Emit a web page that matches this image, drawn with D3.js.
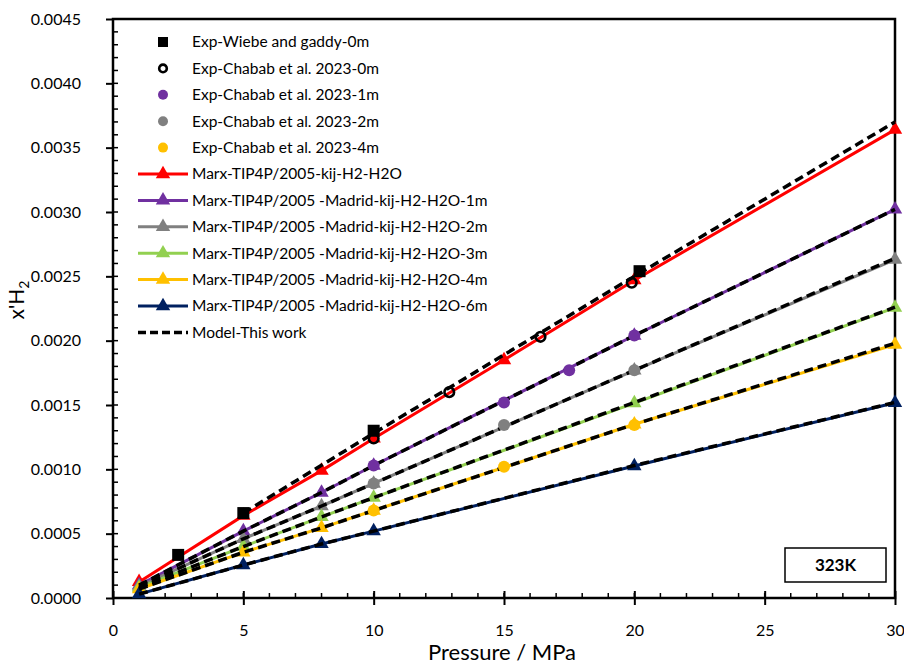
<!DOCTYPE html>
<html>
<head>
<meta charset="utf-8">
<script src="https://cdn.jsdelivr.net/npm/d3@7"></script>
<style>
  html, body { margin: 0; padding: 0; background: #fff; }
  svg { display: block; font-family: Lato, "Open Sans", sans-serif; }
</style>
</head>
<body>
<svg id="chart" width="904" height="670"></svg>
<script>
// ---- Axis ticks ----
const pressureTicks = [0, 5, 10, 15, 20, 25, 30];
const xH2Ticks = [0, 0.0005, 0.0010, 0.0015, 0.0020, 0.0025, 0.0030, 0.0035, 0.0040, 0.0045];

// ---- Simulation series (Marx et al.) ----
const marxRedP = [1, 5, 8, 10, 15, 20, 30];
const marxRed = [0.000125, 0.00064, 0.00099, 0.00124, 0.00185, 0.00247, 0.00364];
const marxP = [1, 5, 8, 10, 20, 30];
const marx1m = [0.00010, 0.00052, 0.00082, 0.00103, 0.00204, 0.00302];
const marx2m = [0.00009, 0.00046, 0.000715, 0.00089, 0.00177, 0.00263];
const marx3m = [0.00008, 0.00040, 0.00063, 0.00078, 0.001515, 0.002257];
const marx4m = [0.00007, 0.000355, 0.000545, 0.00068, 0.00135, 0.00197];
const marx6m = [0.00003, 0.000256, 0.00042, 0.00052, 0.001026, 0.001517];

// ---- Model (this work) ----
const model0mP = [5, 10, 15, 20, 30];
const model0m = [0.00066, 0.00128, 0.00189, 0.00250, 0.00370];
const modelP = [1, 5, 8, 10, 20, 30];
const model1m = [0.00010, 0.00052, 0.00082, 0.00103, 0.00204, 0.00302];
const model2m = [0.00009, 0.00046, 0.000715, 0.00089, 0.00177, 0.00264];
const model3m = [0.00008, 0.00040, 0.00063, 0.00078, 0.00152, 0.00226];
const model4m = [0.00007, 0.000355, 0.000545, 0.00068, 0.00135, 0.00198];
const model6m = [0.00003, 0.000256, 0.00042, 0.00052, 0.00103, 0.00152];

// ---- Experimental data ----
const wiebeP = [2.5, 5, 10, 20.2];
const wiebe0m = [0.000335, 0.00066, 0.00130, 0.00254];
const chabab0mP = [10, 12.9, 16.4, 19.9];
const chabab0m = [0.00124, 0.00160, 0.00203, 0.00245];
const chabab1mP = [10, 15, 17.5, 20];
const chabab1m = [0.00103, 0.00152, 0.00177, 0.00204];
const chabab2mP = [10, 15, 20];
const chabab2m = [0.00089, 0.001345, 0.00177];
const chabab4mP = [10, 15, 20];
const chabab4m = [0.00068, 0.00102, 0.001345];

const zip = (xs, ys) => xs.map((x, i) => ({ x, y: ys[i] }));

const marxSeries = [
  { name: "Marx-TIP4P/2005-kij-H2-H2O", color: "#FF0000", data: zip(marxRedP, marxRed) },
  { name: "Marx-TIP4P/2005 -Madrid-kij-H2-H2O-1m", color: "#7030A0", data: zip(marxP, marx1m) },
  { name: "Marx-TIP4P/2005 -Madrid-kij-H2-H2O-2m", color: "#808080", data: zip(marxP, marx2m) },
  { name: "Marx-TIP4P/2005 -Madrid-kij-H2-H2O-3m", color: "#92D050", data: zip(marxP, marx3m) },
  { name: "Marx-TIP4P/2005 -Madrid-kij-H2-H2O-4m", color: "#FFC000", data: zip(marxP, marx4m) },
  { name: "Marx-TIP4P/2005 -Madrid-kij-H2-H2O-6m", color: "#002060", data: zip(marxP, marx6m) }
];
const modelSeries = [
  zip(model0mP, model0m), zip(modelP, model1m), zip(modelP, model2m),
  zip(modelP, model3m), zip(modelP, model4m), zip(modelP, model6m)
];
const expSeries = [
  { name: "Exp-Wiebe and gaddy-0m", type: "square", fill: "#000", stroke: "none", data: zip(wiebeP, wiebe0m) },
  { name: "Exp-Chabab et al. 2023-0m", type: "open", fill: "none", stroke: "#000", data: zip(chabab0mP, chabab0m) },
  { name: "Exp-Chabab et al. 2023-1m", type: "circle", fill: "#7030A0", stroke: "none", data: zip(chabab1mP, chabab1m) },
  { name: "Exp-Chabab et al. 2023-2m", type: "circle", fill: "#808080", stroke: "none", data: zip(chabab2mP, chabab2m) },
  { name: "Exp-Chabab et al. 2023-4m", type: "circle", fill: "#FFC000", stroke: "none", data: zip(chabab4mP, chabab4m) }
];

// ---- Layout ----
const plot = { left: 113, right: 895, top: 19, bottom: 598 };
const svg = d3.select("#chart");
const x = d3.scaleLinear().domain([0, 30]).range([plot.left, plot.right]);
const y = d3.scaleLinear().domain([0, 0.0045]).range([plot.bottom, plot.top]);

// Minor ticks
const g = svg.append("g");
g.selectAll(".xminor").data(d3.range(0, 31, 1)).join("line")
  .attr("x1", d => x(d)).attr("x2", d => x(d))
  .attr("y1", plot.bottom).attr("y2", plot.bottom - 5)
  .attr("stroke", "#000").attr("stroke-width", 1.5);
g.selectAll(".yminor").data(d3.range(0, 46, 1).map(i => i * 0.0001)).join("line")
  .attr("x1", plot.left).attr("x2", plot.left + 5)
  .attr("y1", d => y(d)).attr("y2", d => y(d))
  .attr("stroke", "#000").attr("stroke-width", 1.5);

// Major ticks via D3 axes
const xAxis = svg.append("g").attr("transform", `translate(0,${plot.bottom})`)
  .call(d3.axisBottom(x).tickValues(pressureTicks).tickFormat(d3.format("d")).tickSizeInner(7).tickSizeOuter(0).tickPadding(20));
xAxis.select(".domain").remove();
xAxis.selectAll(".tick line").attr("y1", -7).attr("stroke-width", 2);
xAxis.selectAll("text").attr("font-size", 16).attr("font-family", "Lato").attr("fill", "#000");

const yAxis = svg.append("g").attr("transform", `translate(${plot.left},0)`)
  .call(d3.axisLeft(y).tickValues(xH2Ticks).tickFormat(d3.format(".4f")).tickSizeInner(7).tickSizeOuter(0).tickPadding(25));
yAxis.select(".domain").remove();
yAxis.selectAll(".tick line").attr("stroke-width", 2);
yAxis.selectAll("text").attr("font-size", 16).attr("font-family", "Lato").attr("fill", "#000");

// Frame
svg.append("rect")
  .attr("x", plot.left).attr("y", plot.top)
  .attr("width", plot.right - plot.left).attr("height", plot.bottom - plot.top)
  .attr("fill", "none").attr("stroke", "#000").attr("stroke-width", 2.5);

// Axis titles
svg.append("text").attr("x", (plot.left + plot.right) / 2 - 2).attr("y", 660)
  .attr("text-anchor", "middle").attr("font-size", 22).attr("fill", "#000")
  .text("Pressure / MPa");
const yt = svg.append("text").attr("transform", "translate(24,300) rotate(-90)")
  .attr("text-anchor", "middle").attr("font-size", 21).attr("fill", "#000");
yt.append("tspan").text("x'H");
yt.append("tspan").attr("font-size", 14).attr("dy", 5).text("2");

const line = d3.line().x(d => x(d.x)).y(d => y(d.y));
const tri = d3.symbol().type(d3.symbolTriangle).size(90);

// Simulation lines with triangle markers
const marxG = svg.append("g");
marxSeries.forEach(s => {
  marxG.append("path").datum(s.data).attr("d", line)
    .attr("fill", "none").attr("stroke", s.color).attr("stroke-width", 3);
  marxG.selectAll(null).data(s.data).join("path")
    .attr("d", tri).attr("transform", d => `translate(${x(d.x)},${y(d.y)})`)
    .attr("fill", s.color);
});

// Model curves, dashed black
modelSeries.forEach(data => {
  svg.append("path").datum(data).attr("d", line)
    .attr("fill", "none").attr("stroke", "#000").attr("stroke-width", 3.5)
    .attr("stroke-dasharray", "9,5");
});

// Experimental points
function drawMarker(sel, type, fill, stroke, size) {
  if (type === "square") {
    sel.append("rect").attr("x", -size / 2).attr("y", -size / 2)
      .attr("width", size).attr("height", size).attr("fill", fill);
  } else if (type === "open") {
    sel.append("circle").attr("r", size / 2 - 1.2).attr("fill", "none")
      .attr("stroke", stroke).attr("stroke-width", 2.6);
  } else {
    sel.append("circle").attr("r", size / 2).attr("fill", fill);
  }
}
expSeries.forEach(s => {
  s.data.forEach(d => {
    const m = svg.append("g").attr("transform", `translate(${x(d.x)},${y(d.y)})`);
    drawMarker(m, s.type, s.fill, s.stroke, 12);
  });
});

// Legend
const legend = svg.append("g");
const rowY = i => 42 + i * 26.4;
const textX = 192;
expSeries.forEach((s, i) => {
  const m = legend.append("g").attr("transform", `translate(163,${rowY(i)})`);
  drawMarker(m, s.type, s.fill, s.stroke, 10);
  legend.append("text").attr("x", textX).attr("y", rowY(i)).attr("dy", "0.35em")
    .attr("font-size", 15.5).attr("fill", "#000").text(s.name);
});
marxSeries.forEach((s, j) => {
  const i = j + expSeries.length;
  legend.append("line").attr("x1", 138).attr("x2", 188)
    .attr("y1", rowY(i)).attr("y2", rowY(i))
    .attr("stroke", s.color).attr("stroke-width", 3);
  legend.append("path").attr("d", tri)
    .attr("transform", `translate(163,${rowY(i)})`).attr("fill", s.color);
  legend.append("text").attr("x", textX).attr("y", rowY(i)).attr("dy", "0.35em")
    .attr("font-size", 15.5).attr("fill", "#000").text(s.name);
});
{
  const i = expSeries.length + marxSeries.length;
  legend.append("line").attr("x1", 138).attr("x2", 188)
    .attr("y1", rowY(i)).attr("y2", rowY(i))
    .attr("stroke", "#000").attr("stroke-width", 3.5).attr("stroke-dasharray", "8,4");
  legend.append("text").attr("x", textX).attr("y", rowY(i)).attr("dy", "0.35em")
    .attr("font-size", 15.5).attr("fill", "#000").text("Model-This work");
}

// Temperature label box
svg.append("rect").attr("x", 785).attr("y", 548).attr("width", 101).attr("height", 34)
  .attr("fill", "#fff").attr("stroke", "#000").attr("stroke-width", 1.5);
svg.append("text").attr("x", 835.5).attr("y", 565).attr("dy", "0.36em")
  .attr("text-anchor", "middle").attr("font-size", 17).attr("font-weight", "bold")
  .attr("fill", "#000").text("323K");
</script>
</body>
</html>
